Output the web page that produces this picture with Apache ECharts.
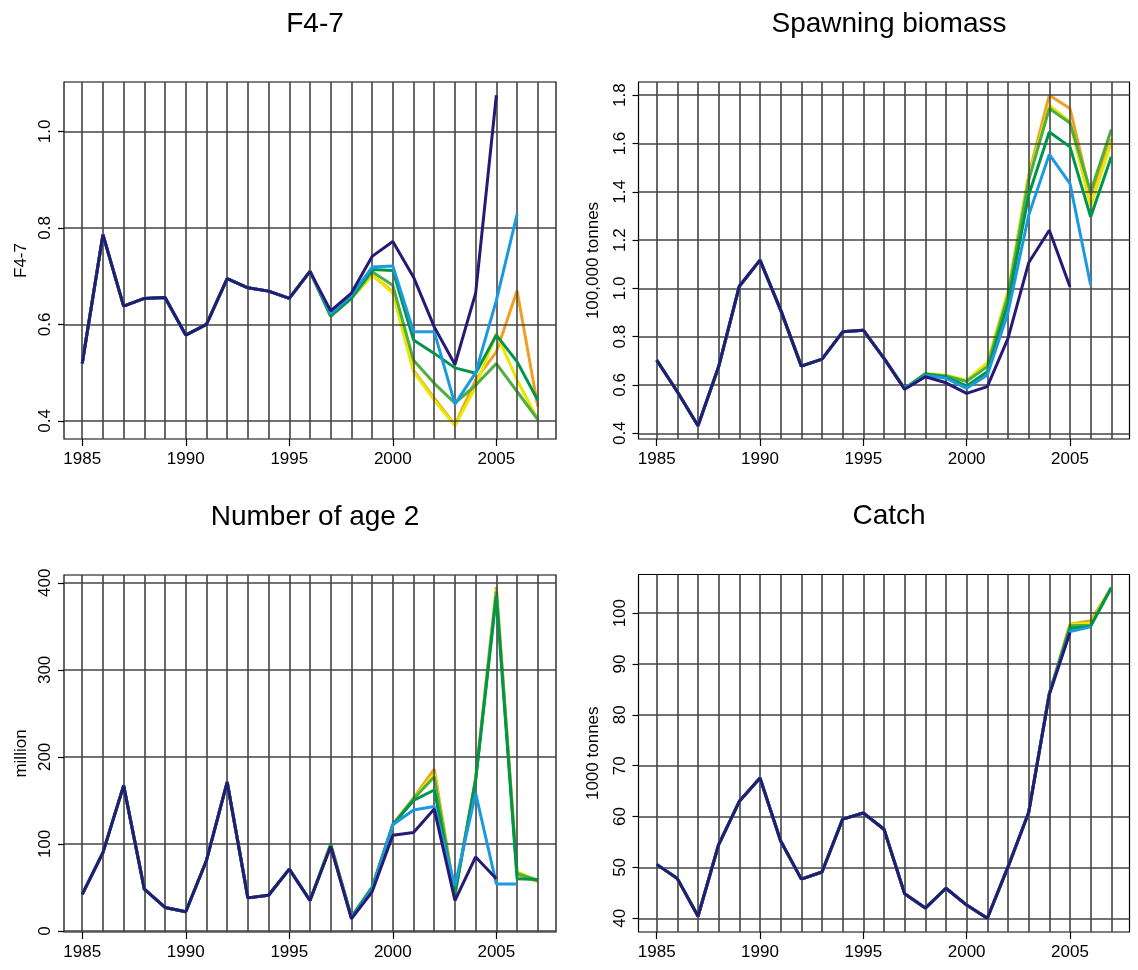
<!DOCTYPE html>
<html>
<head>
<meta charset="utf-8">
<script src="https://cdn.jsdelivr.net/npm/echarts@6/dist/echarts.min.js"></script>
<style>
html,body{margin:0;padding:0;background:#fff;}
#chart{width:1138px;height:970px;}
</style>
</head>
<body>
<div id="chart"></div>
<script>
// ---------- DATA ----------
const years = [1985,1986,1987,1988,1989,1990,1991,1992,1993,1994,1995,1996,1997,1998,1999,2000,2001,2002,2003,2004,2005,2006,2007];
const xTickLabels = [1985,1990,1995,2000,2005];
const seriesColors = ['#f0a020','#e8e800','#4cb040','#00954a','#1a9ae0','#271a75'];
const seriesNames = ['run A','run B','run C','run D','run E','run F'];

// F4-7
const fA = [0.519,0.786,0.638,0.654,0.656,0.578,0.600,0.695,0.676,0.669,0.654,0.710,0.617,0.654,0.702,0.668,0.505,0.447,0.392,0.485,0.543,0.670,0.430];
const fB = [0.519,0.786,0.638,0.654,0.656,0.578,0.600,0.695,0.676,0.669,0.654,0.710,0.617,0.654,0.702,0.665,0.502,0.443,0.390,0.471,0.581,0.485,0.403];
const fC = [0.519,0.786,0.638,0.654,0.656,0.578,0.600,0.695,0.676,0.669,0.654,0.710,0.617,0.654,0.709,0.681,0.526,0.478,0.437,0.474,0.519,0.461,0.403];
const fD = [0.519,0.786,0.638,0.654,0.656,0.578,0.600,0.695,0.676,0.669,0.654,0.710,0.618,0.655,0.714,0.712,0.568,0.540,0.510,0.499,0.578,0.523,0.443];
const fE = [0.519,0.786,0.638,0.654,0.656,0.578,0.600,0.695,0.676,0.669,0.654,0.710,0.622,0.660,0.719,0.721,0.585,0.585,0.435,0.500,0.650,0.828,null];
const fF = [0.519,0.786,0.638,0.654,0.656,0.578,0.600,0.695,0.676,0.669,0.654,0.710,0.628,0.665,0.741,0.772,0.698,0.595,0.517,0.665,1.075,null,null];
const fTicks = [0.4,0.6,0.8,1.0];

// Spawning biomass (100,000 tonnes)
const sA = [0.703,0.572,0.431,0.676,1.009,1.117,0.910,0.678,0.707,0.820,0.827,0.710,0.585,0.645,0.637,0.615,0.685,0.980,1.469,1.800,1.745,1.386,1.620];
const sB = [0.703,0.572,0.431,0.676,1.009,1.117,0.910,0.678,0.707,0.820,0.827,0.710,0.585,0.648,0.640,0.620,0.692,0.990,1.462,1.758,1.690,1.341,1.607];
const sC = [0.703,0.572,0.431,0.676,1.009,1.117,0.910,0.678,0.707,0.820,0.827,0.710,0.585,0.645,0.637,0.615,0.676,0.970,1.448,1.745,1.685,1.400,1.658];
const sD = [0.703,0.572,0.431,0.676,1.009,1.117,0.910,0.678,0.707,0.820,0.827,0.710,0.585,0.645,0.632,0.596,0.655,0.940,1.386,1.648,1.586,1.296,1.545];
const sE = [0.703,0.572,0.431,0.676,1.009,1.117,0.910,0.678,0.707,0.820,0.827,0.710,0.585,0.640,0.628,0.586,0.641,0.900,1.303,1.555,1.434,1.014,null];
const sF = [0.703,0.572,0.431,0.676,1.009,1.117,0.910,0.678,0.707,0.820,0.827,0.710,0.582,0.634,0.609,0.565,0.593,0.793,1.106,1.241,1.007,null,null];
const sTicks = [0.4,0.6,0.8,1.0,1.2,1.4,1.6,1.8];

// Number of age 2 (million)
const nA = [42,90,167,48,27,22,81,171,38,41,71,35,99,16,50,122,153,186,42,175,395,64,57];
const nB = [42,90,167,48,27,22,81,171,38,41,71,35,101,16,50,122,152,181,42,175,392,68,58];
const nC = [42,90,167,48,27,22,81,171,38,41,71,35,99,16,50,122,152,177,42,175,390,66,58];
const nD = [42,90,167,48,27,22,81,171,38,41,71,35,99,16,50,122,150,162,43,173,385,60,59];
const nE = [42,90,167,48,27,22,81,171,38,41,71,35,98,15,48,122,139,143,52,158,54,54,null];
const nF = [42,90,167,48,27,22,81,171,38,41,71,35,97,14,45,110,113,140,35,85,60,null,null];
const nTicks = [0,100,200,300,400];

// Catch (1000 tonnes)
const cA = [50.6,47.8,40.4,54.5,63.0,67.6,55.2,47.7,49.1,59.5,60.7,57.5,44.8,42.0,45.9,42.6,40.0,50.1,60.8,84.2,97.8,98.5,105.0];
const cB = [50.6,47.8,40.4,54.5,63.0,67.6,55.2,47.7,49.1,59.5,60.7,57.5,44.8,42.0,45.9,42.6,40.0,50.1,60.8,84.2,97.8,98.0,105.0];
const cC = [50.6,47.8,40.4,54.5,63.0,67.6,55.2,47.7,49.1,59.5,60.7,57.5,44.8,42.0,45.9,42.6,40.0,50.1,60.8,84.2,97.5,97.6,105.0];
const cD = [50.6,47.8,40.4,54.5,63.0,67.6,55.2,47.7,49.1,59.5,60.7,57.5,44.8,42.0,45.9,42.6,40.0,50.1,60.8,84.2,97.0,97.4,105.0];
const cE = [50.6,47.8,40.4,54.5,63.0,67.6,55.2,47.7,49.1,59.5,60.7,57.5,44.8,42.0,45.9,42.6,40.0,50.1,60.8,84.2,96.4,97.3,null];
const cF = [50.6,47.8,40.4,54.5,63.0,67.6,55.2,47.7,49.1,59.5,60.7,57.5,44.8,42.0,45.9,42.6,40.0,50.1,60.8,84.0,96.2,null,null];
const cTicks = [40,50,60,70,80,90,100];

// ---------- CHART ----------
const FONT = '"Liberation Sans", Arial, sans-serif';
const panels = [
  {title:'F4-7', yName:'F4-7', data:[fA,fB,fC,fD,fE,fF], ticks:fTicks, yMin:0.3626, yMax:1.1024, dec:1,
   grid:{left:64, top:82, width:492, height:357}, nameGap:34},
  {title:'Spawning biomass', yName:'100,000 tonnes', data:[sA,sB,sC,sD,sE,sF], ticks:sTicks, yMin:0.3762, yMax:1.8548, dec:1,
   grid:{left:638.5, top:82, width:491, height:357}, nameGap:37},
  {title:'Number of age 2', yName:'million', data:[nA,nB,nC,nD,nE,nF], ticks:nTicks, yMin:-1.2, yMax:409, dec:0,
   grid:{left:64, top:575, width:492, height:357}, nameGap:34},
  {title:'Catch', yName:'1000 tonnes', data:[cA,cB,cC,cD,cE,cF], ticks:cTicks, yMin:37.3, yMax:107.6, dec:0,
   grid:{left:638.5, top:574.5, width:491, height:357.5}, nameGap:37}
];

const option = {
  animation:false,
  backgroundColor:'#fff',
  title:[], grid:[], xAxis:[], yAxis:[], series:[]
};

panels.forEach((p, i) => {
  option.title.push({
    text:p.title, left:p.grid.left + p.grid.width/2, top:p.grid.top - 77, textAlign:'center',
    textStyle:{fontFamily:FONT, fontSize:28, fontWeight:'normal', color:'#000'}
  });
  option.grid.push(Object.assign({show:true, borderColor:'#000', borderWidth:1.2, backgroundColor:'transparent', containLabel:false}, p.grid));
  option.xAxis.push({
    type:'value', gridIndex:i, min:1984.12, max:2007.88,
    axisLine:{show:false, onZero:false},
    splitLine:{show:false},
    axisTick:{show:true, customValues:xTickLabels, length:7, lineStyle:{color:'#000', width:1.2}},
    axisLabel:{show:true, customValues:xTickLabels, margin:12, fontFamily:FONT, fontSize:17, color:'#000', formatter:v=>String(v)}
  });
  option.yAxis.push({
    type:'value', gridIndex:i, min:p.yMin, max:p.yMax,
    name:p.yName, nameLocation:'middle', nameRotate:90, nameGap:p.nameGap,
    nameTextStyle:{fontFamily:FONT, fontSize:17, color:'#000'},
    axisLine:{show:false, onZero:false},
    splitLine:{show:false},
    axisTick:{show:true, customValues:p.ticks, length:6, lineStyle:{color:'#000', width:1.2}},
    axisLabel:{show:true, customValues:p.ticks, rotate:90, margin:10, fontFamily:FONT, fontSize:17, color:'#000',
      formatter:v=>Number(v).toFixed(p.dec)}
  });
  // grid lines through the library's scales
  const gridLines = years.map(y => ({xAxis:y})).concat(p.ticks.map(v => ({yAxis:v})));
  option.series.push({
    type:'line', xAxisIndex:i, yAxisIndex:i, data:[], z:1, silent:true,
    markLine:{silent:true, symbol:['none','none'], animation:false, label:{show:false},
      lineStyle:{color:'#444', width:1.6, type:'solid'}, emphasis:{disabled:true},
      data:gridLines}
  });
  p.data.forEach((arr, k) => {
    option.series.push({
      type:'line', name:seriesNames[k], xAxisIndex:i, yAxisIndex:i, z:2 + k,
      data:years.map((y, j) => [y, arr[j]]),
      showSymbol:false, symbol:'none', connectNulls:false,
      lineStyle:{color:seriesColors[k], width:3},
      itemStyle:{color:seriesColors[k]}
    });
  });
});

const chart = echarts.init(document.getElementById('chart'), null, {renderer:'canvas'});
chart.setOption(option);
</script>
</body>
</html>
